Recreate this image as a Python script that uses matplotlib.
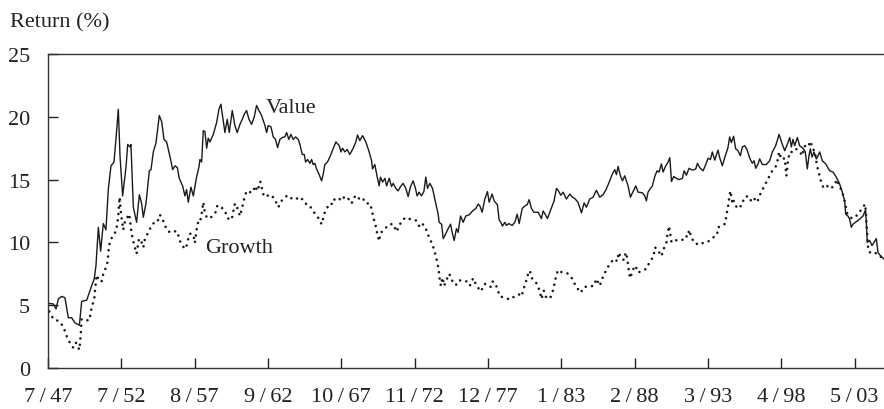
import matplotlib
matplotlib.use("Agg")
import matplotlib.pyplot as plt

# ==========================================
# 1. DATI (indice = osservazione mensile da 7/47)
# ==========================================
value_t = [0, 4.4, 6.7, 8.6, 11.4, 14.1, 16.9, 19.7, 22.4, 26.1, 28.0, 32.2, 36.3, 38.5, 39.9,
           41.9, 43.8, 46.0, 48.2, 50.2, 52.4, 54.9, 56.6, 58.5, 59.9, 62.1, 64.9, 66.3, 68.2,
           69.0, 71.0, 73.7, 76.0, 77.9, 79.3, 81.5, 84.3, 85.7, 87.6, 89.8, 92.6, 94.6, 96.5,
           98.7, 102.0, 103.7, 105.7, 107.6, 109.2, 112.0,
           113.9, 115.3, 116.7, 118.9, 120.9, 123.6, 125.6, 126.4, 127.8, 129.2, 130.6, 132.0,
           133.3, 134.7, 137.5, 140.3, 142.2, 143.9, 145.0, 147.2, 149.1, 150.8, 153.3, 155.5,
           157.4, 159.7, 161.6, 163.3, 165.2, 167.2, 169.4, 171.6, 173.5, 175.5, 177.7, 180.5,
           181.9, 183.2, 185.5, 187.4, 189.3, 191.0, 192.9, 194.9, 197.1, 198.5, 200.4, 202.1,
           204.0, 206.0, 208.2, 209.6, 211.5, 213.2, 214.3, 216.0, 217.9, 219.3, 220.6, 222.0,
           223.4, 225.6, 227.6, 228.9, 230.3, 232.5,
           234.5, 239.5, 242.3, 243.7, 245.0, 247.0, 248.9, 251.1, 253.9, 256.1, 257.5, 259.4,
           261.7, 264.4, 267.2, 269.2, 270.0, 271.9, 273.9, 275.5, 276.6, 278.3, 280.3, 281.7,
           283.9, 285.8, 287.2, 289.4, 291.3, 293.3, 295.5, 297.7, 299.6, 301.6, 303.8, 305.7,
           307.1, 308.8, 310.7, 312.7, 314.3, 315.7, 317.7, 319.9, 322.7, 324.6, 325.4, 327.4,
           328.8, 331.0, 332.9, 334.9, 336.5, 337.9, 339.8, 341.2, 343.2, 345.4, 347.6, 350.4,
           353.2, 355.9, 357.9, 359.3,
           361.2, 363.4, 365.6, 367.0, 369.5, 371.2, 373.9, 375.3, 376.7, 378.1, 380.0, 381.4,
           383.4, 386.1, 388.4, 390.3, 392.0, 394.5, 396.7, 398.6, 400.3, 402.2, 404.2, 407.8,
           410.5, 411.9, 413.9, 415.5, 417.5, 421.0, 423.0, 424.4, 426.6, 428.5, 431.3, 434.1,
           436.3, 438.2, 440.9, 443.8, 446.0, 447.9, 450.7, 453.5, 456.2, 459.0, 461.8, 464.5,
           467.3, 469.3, 471.5, 472.9, 474.3, 476.2, 477.9, 479.8,
           482.6, 484.5, 486.8, 489.0, 490.9, 494.5, 496.5, 497.8, 499.2, 501.2, 502.8, 504.8,
           506.7, 508.4, 510.3, 511.7, 513.7, 515.9, 517.3, 518.7, 520.6, 522.8, 525.0, 527.8,
           529.2, 531.1, 533.3, 536.1, 538.9, 540.3, 542.2, 545.0, 547.2, 549.1, 551.1, 552.7,
           554.7, 557.4, 558.8, 561.0, 563.0, 565.7, 567.1, 568.5, 570.4, 572.1, 574.0, 576.0,
           577.7, 579.6, 581.5, 583.8, 586.0, 587.4, 588.8, 590.7, 592.1, 594.3, 597.6, 600.4,
           602.6, 605.4, 608.2, 610.9, 612.9, 614.8, 617.1, 618.4, 619.8, 621.2, 623.4, 625.3,
           628.1, 630.0, 631.7, 633.1, 634.2, 635.6, 637.3, 639.2, 640.6, 642.0, 644.2, 647.0,
           650.3, 653.1, 655.8, 658.6, 660.5, 662.8, 663.6, 665.5, 666.9, 668.3, 669.7, 675.2,
           678.0, 680.2, 680.8, 681.6, 683.6, 685.5, 687.2, 689.1, 690.5, 692.5, 694.1, 695.2]
value_r = [5.15, 5.1, 4.7, 5.5, 5.7, 5.6, 4.0, 4.0, 3.6, 3.4, 5.3, 5.4, 6.55, 7.1, 8.15,
           11.2, 9.3, 11.5, 11.0, 14.25, 16.1, 16.4, 18.3, 20.6, 16.9, 13.7, 16.0, 17.8, 17.6,
           17.8, 12.8, 11.6, 13.8, 13.1, 12.0, 13.1, 15.7, 15.8, 17.2, 17.9, 20.1, 19.6, 18.2,
           18.0, 16.6, 15.8, 16.1, 15.95, 15.1, 14.5,
           13.7, 14.2, 13.2, 14.4, 13.7, 15.2, 16.0, 16.6, 16.4, 18.9, 18.8, 17.5,
           18.3, 18.0, 18.6, 19.55, 20.6, 21.0, 20.2, 18.75, 19.8, 18.75, 20.5, 19.3,
           18.75, 19.4, 19.8, 20.2, 20.5, 19.8, 19.4, 20.0, 20.9, 20.5, 20.1, 19.3,
           18.75, 19.3, 19.2, 18.4, 18.2, 17.55, 18.2, 18.35, 18.4, 18.75, 18.2, 18.6,
           18.2, 18.4, 18.2, 17.8, 17.0, 17.0, 16.4, 16.6, 16.3, 16.6, 16.2, 16.3,
           15.85, 15.4, 14.9, 15.4, 16.2, 16.4,
           16.8, 18.0, 17.7, 17.2, 17.5, 17.2, 17.4, 17.0, 17.5, 18.0, 18.55, 18.1,
           18.5, 18.0, 17.2, 16.5, 15.85, 16.2, 15.2, 14.5, 15.2, 14.8, 15.1, 14.5,
           15.1, 14.45, 14.7, 14.3, 14.1, 14.45, 14.7, 14.3, 13.65, 14.45, 14.9, 14.3,
           13.7, 14.0, 13.7, 14.05, 15.2, 14.3, 14.7, 14.3, 13.05, 12.25, 11.6, 11.45,
           10.3, 10.7, 11.1, 11.45, 10.7, 10.15, 11.1, 10.8, 12.1, 11.6, 12.1, 12.2,
           12.5, 12.7, 13.05, 12.9,
           12.4, 13.45, 14.05, 13.2, 13.85, 13.3, 13.0, 11.8, 11.6, 11.3, 11.6, 11.35,
           11.5, 11.35, 11.6, 12.25, 11.5, 12.7, 12.9, 13.0, 13.4, 12.7, 12.4, 12.4,
           11.9, 12.5, 12.2, 11.9, 12.4, 13.3, 14.3, 14.15, 13.75, 14.0, 13.45, 13.85,
           13.6, 13.5, 13.2, 12.35, 13.15, 12.8, 13.45, 13.6, 14.15, 13.6, 13.8, 14.25,
           14.9, 15.4, 15.8, 15.4, 16.05, 15.3, 14.9, 15.3,
           14.5, 13.6, 14.05, 14.5, 14.0, 13.95, 13.7, 13.3, 14.0, 14.3, 14.5, 15.25,
           15.7, 15.6, 16.25, 15.6, 16.05, 16.4, 16.75, 14.85, 15.25, 15.1, 15.0, 15.1,
           15.7, 15.35, 15.9, 15.75, 15.85, 16.3, 15.95, 15.7, 16.2, 16.7, 16.6, 17.2,
           16.55, 17.35, 16.75, 16.1, 16.75, 17.55, 18.4, 17.95, 18.45, 17.45, 17.3, 16.9,
           17.6, 17.7, 17.4, 16.7, 16.3, 16.5, 15.9, 16.25, 16.65, 16.2, 16.2, 16.5,
           17.2, 17.7, 18.6, 17.8, 17.3, 17.75, 18.35, 17.6, 18.2, 17.7, 18.35, 17.7,
           17.5, 17.2, 15.85, 16.9, 17.45, 16.8, 17.2, 16.65, 16.9, 17.2, 16.5, 16.25,
           15.7, 15.6, 15.2, 14.65, 14.1, 13.3, 12.25, 12.1, 11.85, 11.2, 11.45, 11.85,
           12.1, 12.6, 11.6, 10.0, 10.15, 9.75, 10.0, 10.3, 9.2, 8.95, 8.8, 8.7]

growth_t = [1.1, 4.4, 7.2, 9.4, 12.8, 15.0, 17.7, 21.1, 23.3, 26.1, 26.6, 27.2, 28.0, 31.6,
            34.4, 36.3, 38.5, 39.1, 40.5, 42.7, 44.6, 46.0, 47.4, 49.6, 50.2, 50.7, 53.0,
            56.6, 57.7, 58.5, 59.0, 59.6, 60.7, 62.6, 64.3, 66.0, 67.6, 69.0, 70.4, 71.8,
            73.7, 75.7, 77.9, 79.3, 80.7, 83.4, 86.8, 89.0, 90.9, 93.1, 96.5, 98.7, 101.5,
            104.2, 107.8, 109.2, 112.5, 114.8, 116.1, 118.1, 120.9, 122.2, 123.6, 125.0,
            126.4, 127.8, 129.2, 130.0, 132.0, 134.7, 139.4, 140.8, 143.9, 146.6, 148.6,
            150.0, 152.8, 154.1, 155.5, 157.7, 159.7, 161.6, 163.3, 165.2, 168.0, 170.7,
            172.1, 174.4, 176.6, 178.2, 179.6, 181.9, 185.5, 188.8, 191.6, 194.9, 199.3,
            204.0, 210.4, 213.7, 217.1, 220.6, 223.4, 225.4, 227.6, 230.3, 233.1, 235.4,
            237.3, 241.4, 245.0, 247.5, 249.7, 252.5, 255.8, 258.6, 261.4, 264.4, 267.8,
            269.4, 270.6, 272.5, 273.9, 275.5, 276.6, 278.3, 280.3, 284.4, 287.2, 290.0,
            291.9, 295.0, 298.3, 302.4, 306.1, 309.4, 311.6, 313.6, 315.5, 318.3, 321.0,
            322.7, 324.1, 325.2, 326.0, 326.8, 328.2, 329.6, 331.0, 333.8, 336.5, 339.3,
            342.1, 344.8, 348.2, 350.9, 353.7, 356.5, 360.1, 363.4, 366.2, 368.1, 369.5,
            371.7, 373.9, 375.9, 380.0, 384.2, 389.7, 392.0, 393.9, 395.9, 398.0, 399.5,
            400.8, 402.8, 406.9, 409.1, 410.5, 412.5, 414.7, 418.0, 420.2, 421.6, 423.0,
            424.4, 427.7, 431.9, 436.3, 439.1, 443.2, 446.0, 450.2, 454.3, 456.2, 459.0,
            461.0, 463.7, 466.8, 470.9, 473.7, 474.8, 477.0, 479.3, 480.6, 481.8, 482.6,
            483.4, 484.5, 486.2, 488.7, 490.9, 494.5, 497.8, 500.6, 503.9, 504.8, 506.7,
            510.3, 512.3, 514.5, 515.3, 516.7, 517.8, 518.7, 520.6, 525.0, 528.4, 530.3,
            532.5, 533.3, 534.7, 537.2, 541.7, 545.8, 549.9, 552.7, 556.6, 557.4, 560.2,
            563.5, 564.4, 565.7, 566.6, 567.7, 568.5, 569.4, 570.4, 571.3, 573.2, 577.4,
            579.0, 582.4, 585.7, 587.9, 589.9, 592.6, 595.7, 599.0, 601.8, 605.4, 607.3,
            608.2, 610.1, 612.9, 613.7, 614.3, 615.6, 617.1, 619.8, 622.0, 624.8, 627.6,
            629.0, 630.9, 633.1, 634.5, 635.9, 637.8, 639.8, 641.4, 643.1, 645.3, 648.9,
            650.8, 653.6, 656.4, 658.0, 660.0, 661.9, 663.3, 664.9, 668.8, 673.8, 677.1,
            679.9, 680.8, 681.3, 681.6, 682.0, 682.4, 684.9, 688.5, 691.8, 694.6]
growth_r = [4.5, 3.9, 3.8, 3.7, 3.3, 2.65, 2.1, 1.6, 2.0, 1.45, 2.0, 2.6, 3.9, 3.8,
            3.8, 4.8, 5.5, 6.15, 7.4, 6.9, 6.9, 7.5, 7.8, 8.45, 9.1, 9.75, 10.35,
            10.9, 11.5, 12.2, 12.9, 13.6, 12.3, 11.0, 11.8, 12.0, 12.25, 11.1, 10.3, 9.75,
            9.1, 10.3, 10.0, 9.6, 10.3, 10.8, 11.45, 11.6, 11.6, 12.2, 11.6, 11.0, 10.8,
            10.9, 10.85, 10.2, 9.65, 9.5, 10.1, 10.7, 10.6, 9.95, 11.0, 11.65,
            11.6, 12.25, 13.2, 12.6, 12.0, 11.9, 12.4, 12.9, 12.9, 12.4, 12.3,
            11.9, 11.8, 12.45, 13.1, 12.7, 12.1, 12.8, 13.5, 14.1, 14.0, 14.0,
            14.5, 14.1, 14.85, 14.2, 13.65, 13.7, 13.8, 13.4, 12.8, 13.4, 13.75,
            13.4, 13.6, 13.1, 13.0, 12.5, 12.1, 11.9, 11.45, 12.4, 12.9, 12.9,
            13.45, 13.3, 13.7, 13.4, 13.5, 13.1, 13.75, 13.5, 13.6, 13.1, 13.1,
            12.6, 12.0, 11.35, 10.7, 10.1, 10.75, 10.9, 11.1, 11.45, 11.45, 10.85,
            11.3, 11.8, 12.0, 11.8, 11.75, 11.2, 11.45, 11.3, 10.75, 10.15, 9.5,
            8.9, 8.3, 7.65, 7.0, 6.55, 7.2, 6.55, 6.9, 7.5, 6.9, 6.6,
            7.0, 6.9, 6.9, 6.55, 7.15, 6.55, 6.1, 6.7, 6.55, 6.45, 6.9,
            6.8, 6.3, 5.7, 5.6, 5.45, 5.8, 5.85, 5.7, 6.35, 7.0, 7.5,
            7.75, 7.1, 6.7, 6.1, 5.5, 6.15, 5.55, 5.6, 6.2, 6.8, 7.45,
            7.8, 7.6, 7.55, 7.1, 6.5, 6.0, 6.45, 6.5, 6.55, 7.1, 6.55,
            7.1, 7.65, 8.2, 8.7, 8.5, 9.2, 8.7, 8.6, 9.2, 8.8, 8.2,
            7.55, 7.15, 7.75, 8.15, 7.6, 7.75, 7.9, 8.45, 8.9, 9.6, 9.5,
            8.9, 9.5, 10.0, 10.65, 11.3, 10.6, 10.0, 10.1, 10.25, 10.2, 10.5,
            10.45, 11.0, 10.6, 10.0, 9.8, 10.0, 10.1, 10.35, 10.6, 11.2, 11.3,
            11.5, 12.2, 12.8, 13.45, 14.1, 13.65, 13.05, 13.3, 13.25, 12.7, 12.95,
            13.55, 13.7, 13.2, 13.45, 13.2, 13.85, 14.45, 15.05, 15.6, 16.05, 16.65,
            17.2, 16.6, 16.7, 15.85, 15.3, 16.5, 17.2, 17.2, 17.45, 17.3, 16.9,
            17.5, 17.9, 17.8, 18.05, 17.45, 17.3, 16.1, 15.5, 14.85, 14.3, 14.5,
            14.3, 14.45, 15.0, 14.5, 14.2, 13.65, 13.05, 12.3, 11.9, 12.2, 12.7,
            13.05, 11.7, 11.0, 10.4, 9.8, 9.35, 9.1, 9.15, 8.95, 8.7]

tick_labels = ["7/47", "7/52", "8/57", "9/62", "10/67", "11/72",
               "12/77", "1/83", "2/88", "3/93", "4/98", "5/03"]
tick_step = 61
y_ticks = [0, 5, 10, 15, 20, 25]

# ==========================================
# 2. GRAFICO
# ==========================================
plt.rcParams['font.family'] = ['Liberation Serif', 'DejaVu Serif']
plt.rcParams['font.size'] = 16

fig = plt.figure(figsize=(8.84, 4.10), dpi=100)
ax = fig.add_axes([48 / 884, 41 / 410, 836 / 884, 314 / 410])

ax.plot(value_t, value_r, color='#1a1a1a', linewidth=1.0)
# Growth: linea a puntini radi
ax.plot(growth_t, growth_r, color='#1a1a1a', linewidth=1.9,
        linestyle=(0, (0.01, 2.4)), dash_capstyle='round')

ax.text(181, 20.4, "Value", ha='left', va='baseline', color='#222222')
ax.text(131, 9.26, "Growth", ha='left', va='baseline', color='#222222')

ax.set_xlim(0, 695.5)
ax.set_ylim(0, 25)
ax.set_xticks([i * tick_step for i in range(len(tick_labels))])
ax.set_xticklabels([s.replace("/", "\u2009/\u2009") for s in tick_labels])
ax.set_yticks(y_ticks)

ax.tick_params(axis='x', direction='in', length=7, width=1, pad=14, colors='#222222')
ax.tick_params(axis='y', direction='in', length=7, width=1, pad=13, colors='#222222')
for side in ['left', 'bottom', 'top']:
    ax.spines[side].set_linewidth(1.0)
    ax.spines[side].set_color('#333333')
ax.spines['right'].set_visible(False)

fig.text(10 / 884, 1 - 27.5 / 410, "Return (%)", ha='left', va='baseline', color='#222222')

plt.savefig("out.png", dpi=100)
plt.close()
